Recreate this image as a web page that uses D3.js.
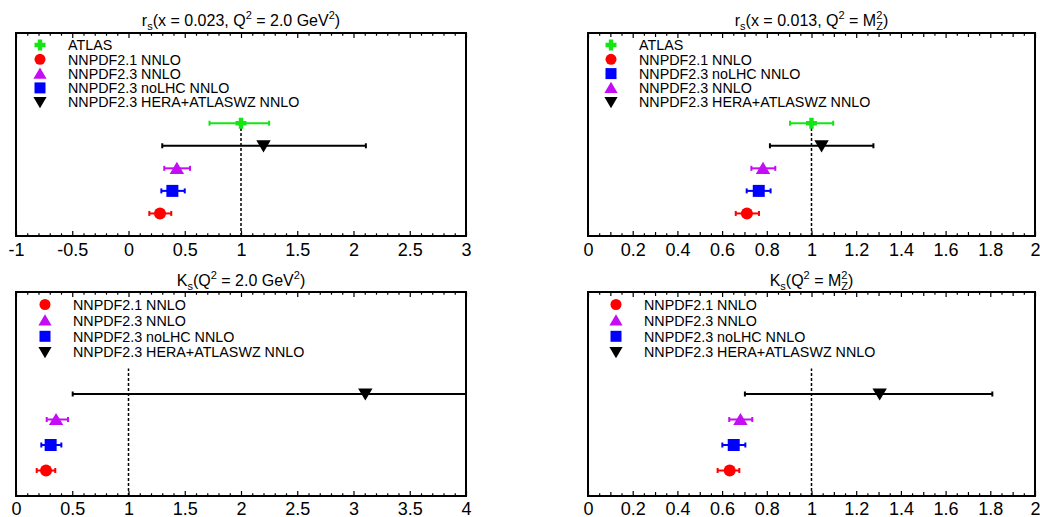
<!DOCTYPE html>
<html><head><meta charset="utf-8">
<script src="https://cdn.jsdelivr.net/npm/d3@7"></script>
<style>
html,body{margin:0;padding:0;background:#fff;}
svg{display:block;font-family:"Liberation Sans",Arial,Helvetica,sans-serif;}
text{white-space:pre;}
</style></head>
<body><svg id="chart" width="1040" height="517"></svg>
<script>
// ---------------- data ----------------
const seriesNames = ["ATLAS", "NNPDF2.1 NNLO", "NNPDF2.3 NNLO", "NNPDF2.3 noLHC NNLO", "NNPDF2.3 HERA+ATLASWZ NNLO"];
const seriesRows = [5, 1, 3, 2, 4];

// r_s(x=0.023, Q^2=2.0 GeV^2)
const rsLowQCentral = [1.00, 0.28, 0.43, 0.39, 1.20];
const rsLowQLower   = [0.72, 0.185, 0.318, 0.292, 0.30];
const rsLowQUpper   = [1.25, 0.38, 0.547, 0.50, 2.11];
// r_s(x=0.013, Q^2=MZ^2)
const rsMZCentral = [1.00, 0.711, 0.783, 0.764, 1.045];
const rsMZLower   = [0.904, 0.661, 0.731, 0.710, 0.814];
const rsMZUpper   = [1.097, 0.765, 0.838, 0.817, 1.277];
// K_s(Q^2=2.0 GeV^2)
const ksLowQCentral = [null, 0.267, 0.356, 0.308, 3.105];
const ksLowQLower   = [null, 0.184, 0.273, 0.225, 0.504];
const ksLowQUpper   = [null, 0.349, 0.462, 0.403, 4.30];
// K_s(Q^2=MZ^2)
const ksMZCentral = [null, 0.634, 0.682, 0.652, 1.305];
const ksMZLower   = [null, 0.580, 0.632, 0.601, 0.702];
const ksMZUpper   = [null, 0.677, 0.735, 0.704, 1.809];

// tick labels
const ticksRsLowQ = [-1, -0.5, 0, 0.5, 1, 1.5, 2, 2.5, 3];
const ticksRsMZ   = [0, 0.2, 0.4, 0.6, 0.8, 1, 1.2, 1.4, 1.6, 1.8, 2];
const ticksKsLowQ = [0, 0.5, 1, 1.5, 2, 2.5, 3, 3.5, 4];
const ticksKsMZ   = [0, 0.2, 0.4, 0.6, 0.8, 1, 1.2, 1.4, 1.6, 1.8, 2];

// legend orders (indices into seriesNames)
const legendRsLowQ = [0, 1, 2, 3, 4];
const legendRsMZ   = [0, 1, 3, 2, 4];
const legendKs     = [1, 2, 3, 4];

// ---------------- styles ----------------
const colors = ["#14e614", "#ff0000", "#c40cf5", "#0000ff", "#000000"];
const shapes = ["plus", "circle", "triUp", "square", "triDown"];

const panels = [
  {title:[["r"],["s","sub"],["(x = 0.023, Q"],["2","sup"],[" = 2.0 GeV"],["2","sup"],[")"]],
   left:16, right:466, top:33, bottom:236, dom:[-1,3], ymax:9, ticks:ticksRsLowQ, minor:0.1, mid:0.5,
   c:rsLowQCentral, lo:rsLowQLower, hi:rsLowQUpper, legend:legendRsLowQ, lx:24, tx:52, ly:12, ls:14.3, titleY:26, pad:7},
  {title:[["r"],["s","sub"],["(x = 0.013, Q"],["2","sup"],[" = M"],["2|Z","supsub"],[")"]],
   left:588, right:1035, top:33, bottom:236, dom:[0,2], ymax:9, ticks:ticksRsMZ, minor:0.05, mid:0.1,
   c:rsMZCentral, lo:rsMZLower, hi:rsMZUpper, legend:legendRsMZ, lx:23, tx:51, ly:12, ls:14.3, titleY:26, pad:7},
  {title:[["K"],["s","sub"],["(Q"],["2","sup"],[" = 2.0 GeV"],["2","sup"],[")"]],
   left:16, right:466, top:292, bottom:496, dom:[0,4], ymax:8, ticks:ticksKsLowQ, minor:0.1, mid:0.5,
   c:ksLowQCentral, lo:ksLowQLower, hi:ksLowQUpper, legend:legendKs, lx:29, tx:57, ly:12.5, ls:15.9, titleY:286, pad:6},
  {title:[["K"],["s","sub"],["(Q"],["2","sup"],[" = M"],["2|Z","supsub"],[")"]],
   left:588, right:1035, top:292, bottom:496, dom:[0,2], ymax:8, ticks:ticksKsMZ, minor:0.05, mid:0.1,
   c:ksMZCentral, lo:ksMZLower, hi:ksMZUpper, legend:legendKs, lx:28, tx:56, ly:12.5, ls:15.9, titleY:286, pad:6}
];

const svg = d3.select("#chart");
const defs = svg.append("defs");

function markerPath(shape, s) {
  const h = s / 2;
  switch (shape) {
    case "square": return `M${-h},${-h}H${h}V${h}H${-h}Z`;
    case "triUp": { const w = s * 0.6, t = s * 0.55; return `M0,${-t}L${w},${t*0.85}L${-w},${t*0.85}Z`; }
    case "triDown": { const w = s * 0.6, t = s * 0.55; return `M0,${t}L${w},${-t*0.85}L${-w},${-t*0.85}Z`; }
    case "plus": { const a = s * 0.2; return `M${-a},${-h}H${a}V${-a}H${h}V${a}H${a}V${h}H${-a}V${a}H${-h}V${-a}H${-a}Z`; }
  }
}
function drawMarker(g, shape, color, x, y, s) {
  if (shape === "circle") {
    g.append("circle").attr("cx", x).attr("cy", y).attr("r", s / 2).attr("fill", color);
  } else {
    g.append("path").attr("d", markerPath(shape, s)).attr("transform", `translate(${x},${y})`).attr("fill", color);
  }
}

panels.forEach((p, pi) => {
  const x = d3.scaleLinear().domain(p.dom).range([p.left, p.right]);
  const y = d3.scaleLinear().domain([0, p.ymax]).range([p.bottom, p.top]);
  const g = svg.append("g");

  defs.append("clipPath").attr("id", "clip" + pi).append("rect")
    .attr("x", p.left).attr("y", p.top).attr("width", p.right - p.left).attr("height", p.bottom - p.top);

  const nMinor = Math.round((p.dom[1] - p.dom[0]) / p.minor);
  const minorVals = d3.range(nMinor + 1).map(i => +(p.dom[0] + i * p.minor).toFixed(4));
  const isMajor = v => p.ticks.some(t => Math.abs(t - v) < 1e-6);
  const isMid = v => Math.abs(v / p.mid - Math.round(v / p.mid)) < 1e-6;
  const minorOnly = minorVals.filter(v => !isMajor(v) && !isMid(v));
  const midOnly = minorVals.filter(v => !isMajor(v) && isMid(v));

  [[minorOnly, 2.7], [midOnly, 4], [p.ticks, 5]].forEach(([vals, len]) => {
    g.append("g").attr("transform", `translate(0,${p.bottom})`)
      .call(d3.axisBottom(x).tickValues(vals).tickSize(-len).tickFormat(""))
      .call(a => a.select(".domain").remove())
      .selectAll("line").attr("stroke", "#000").attr("stroke-width", 1.2);
    g.append("g").attr("transform", `translate(0,${p.top})`)
      .call(d3.axisTop(x).tickValues(vals).tickSize(-len).tickFormat(""))
      .call(a => a.select(".domain").remove())
      .selectAll("line").attr("stroke", "#000").attr("stroke-width", 1.2);
  });

  const ax = g.append("g").attr("transform", `translate(0,${p.bottom})`)
    .call(d3.axisBottom(x).tickValues(p.ticks).tickSize(0).tickPadding(p.pad).tickFormat(d => String(d)));
  ax.select(".domain").remove();
  ax.selectAll("text").attr("font-size", 18).attr("font-family", "Liberation Sans, Arial, sans-serif").attr("fill", "#000");

  g.append("rect").attr("x", p.left).attr("y", p.top).attr("width", p.right - p.left).attr("height", p.bottom - p.top)
    .attr("fill", "none").attr("stroke", "#000").attr("stroke-width", 2);

  g.append("line").attr("x1", x(1)).attr("x2", x(1)).attr("y1", y(0)).attr("y2", y(5))
    .attr("stroke", "#000").attr("stroke-width", 1.5).attr("stroke-dasharray", "3,2");

  const dg = g.append("g").attr("clip-path", `url(#clip${pi})`);
  seriesNames.forEach((name, i) => {
    if (p.c[i] == null) return;
    const yy = y(seriesRows[i]);
    const col = colors[i];
    dg.append("line").attr("x1", x(p.lo[i])).attr("x2", x(p.hi[i])).attr("y1", yy).attr("y2", yy)
      .attr("stroke", col).attr("stroke-width", 2);
    [p.lo[i], p.hi[i]].forEach(v => {
      dg.append("line").attr("x1", x(v)).attr("x2", x(v)).attr("y1", yy - 2.5).attr("y2", yy + 2.5)
        .attr("stroke", col).attr("stroke-width", 2);
    });
    drawMarker(dg, shapes[i], col, x(p.c[i]), yy, shapes[i] === "plus" ? 11 : 12);
  });

  p.legend.forEach((si, k) => {
    const cy = p.top + p.ly + k * p.ls;
    drawMarker(g, shapes[si], colors[si], p.left + p.lx, cy, 11);
    g.append("text").attr("x", p.left + p.tx).attr("y", cy + 5.2).attr("font-size", 14.3).attr("fill", "#000")
      .text(seriesNames[si]);
  });

  const tg = g.append("g");
  let cx = 0;
  p.title.forEach(([t, type]) => {
    if (!type) {
      const el = tg.append("text").attr("x", cx).attr("y", 0).attr("font-size", 16).attr("xml:space", "preserve").text(t);
      cx += el.node().getComputedTextLength();
    } else if (type === "sub") {
      const el = tg.append("text").attr("x", cx).attr("y", 4).attr("font-size", 11).text(t);
      cx += el.node().getComputedTextLength();
    } else if (type === "sup") {
      const el = tg.append("text").attr("x", cx).attr("y", -7).attr("font-size", 11).text(t);
      cx += el.node().getComputedTextLength();
    } else if (type === "supsub") {
      const [a, b] = t.split("|");
      const e1 = tg.append("text").attr("x", cx).attr("y", -7).attr("font-size", 11).text(a);
      const e2 = tg.append("text").attr("x", cx).attr("y", 4).attr("font-size", 11).text(b);
      cx += Math.max(e1.node().getComputedTextLength(), e2.node().getComputedTextLength());
    }
  });
  tg.attr("transform", `translate(${(p.left + p.right) / 2 - cx / 2},${p.titleY})`);
});
</script></body></html>
